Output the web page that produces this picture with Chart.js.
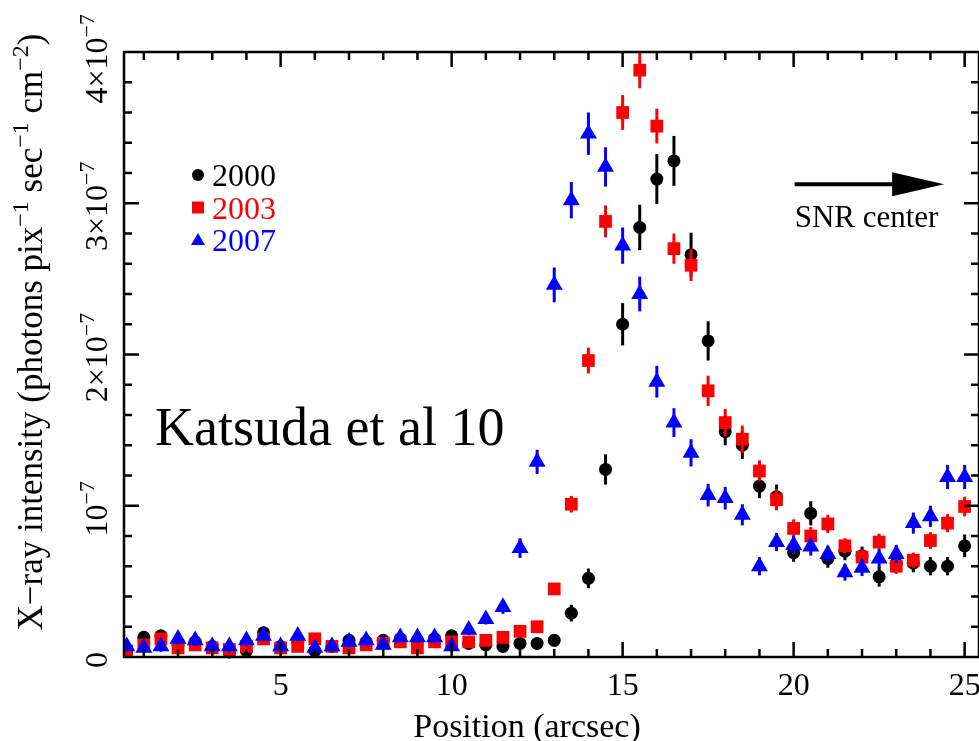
<!DOCTYPE html>
<html>
<head>
<meta charset="utf-8">
<script src="https://cdn.jsdelivr.net/npm/chart.js@4.4.0/dist/chart.umd.min.js"></script>
<style>
    html, body { margin: 0; padding: 0; background: #fff; }
    canvas { display: block; }
</style>
</head>
<body>
<canvas id="grafico" width="979" height="741"></canvas>
<script>
// posiciones (arcsec)
let posiciones = [0.5, 1, 1.5, 2, 2.5, 3, 3.5, 4, 4.5, 5,
    5.5, 6, 6.5, 7, 7.5, 8, 8.5, 9, 9.5, 10,
    10.5, 11, 11.5, 12, 12.5, 13, 13.5, 14, 14.5, 15,
    15.5, 16, 16.5, 17, 17.5, 18, 18.5, 19, 19.5, 20,
    20.5, 21, 21.5, 22, 22.5, 23, 23.5, 24, 24.5, 25];

// intensidad en unidades de 1e-7 photons pix^-1 sec^-1 cm^-2
let datos2000 = [0.05, 0.13, 0.14, 0.08, 0.10, 0.07, 0.03, 0.04, 0.16, 0.07,
    0.10, 0.04, 0.07, 0.11, 0.10, 0.11, 0.12, 0.11, 0.12, 0.14,
    0.09, 0.08, 0.07, 0.09, 0.09, 0.11, 0.29, 0.52, 1.24, 2.20,
    2.84, 3.16, 3.28, 2.66, 2.09, 1.49, 1.40, 1.13, 1.06, 0.69,
    0.95, 0.65, 0.70, 0.67, 0.53, 0.62, 0.62, 0.60, 0.60, 0.735];
let errores2000 = [0.04, 0.04, 0.04, 0.04, 0.04, 0.04, 0.04, 0.04, 0.04, 0.04,
    0.04, 0.04, 0.04, 0.04, 0.04, 0.04, 0.04, 0.04, 0.04, 0.04,
    0.04, 0.04, 0.04, 0.04, 0.04, 0.04, 0.055, 0.065, 0.10, 0.14,
    0.15, 0.165, 0.165, 0.145, 0.13, 0.09, 0.09, 0.08, 0.08, 0.06,
    0.08, 0.06, 0.06, 0.06, 0.065, 0.06, 0.06, 0.06, 0.06, 0.075];

let datos2003 = [0.04, 0.08, 0.12, 0.06, 0.08, 0.06, 0.05, 0.07, 0.12, 0.06,
    0.07, 0.12, 0.07, 0.06, 0.08, 0.09, 0.10, 0.06, 0.10, 0.10,
    0.10, 0.11, 0.13, 0.17, 0.20, 0.45, 1.01, 1.96, 2.88, 3.60,
    3.88, 3.51, 2.70, 2.59, 1.76, 1.55, 1.44, 1.23, 1.04, 0.85,
    0.80, 0.88, 0.735, 0.66, 0.76, 0.60, 0.64, 0.77, 0.885, 0.995];
let errores2003 = [0.035, 0.035, 0.035, 0.035, 0.035, 0.035, 0.035, 0.035, 0.035, 0.035,
    0.035, 0.035, 0.035, 0.035, 0.035, 0.035, 0.035, 0.035, 0.035, 0.035,
    0.035, 0.035, 0.035, 0.035, 0.035, 0.04, 0.055, 0.085, 0.105, 0.115,
    0.12, 0.115, 0.10, 0.105, 0.10, 0.09, 0.09, 0.07, 0.07, 0.06,
    0.06, 0.06, 0.05, 0.05, 0.055, 0.05, 0.05, 0.055, 0.06, 0.065];

let datos2007 = [0.07, 0.06, 0.07, 0.12, 0.11, 0.07, 0.07, 0.11, 0.14, 0.07,
    0.14, 0.06, 0.07, 0.10, 0.11, 0.08, 0.13, 0.13, 0.13, 0.07,
    0.18, 0.25, 0.33, 0.72, 1.29, 2.46, 3.02, 3.46, 3.24, 2.72,
    2.40, 1.82, 1.55, 1.35, 1.07, 1.05, 0.94, 0.60, 0.76, 0.74,
    0.73, 0.68, 0.56, 0.59, 0.65, 0.68, 0.885, 0.93, 1.19, 1.19];
let errores2007 = [0.035, 0.035, 0.035, 0.035, 0.035, 0.035, 0.035, 0.035, 0.035, 0.035,
    0.035, 0.035, 0.035, 0.035, 0.035, 0.035, 0.035, 0.035, 0.035, 0.035,
    0.035, 0.035, 0.045, 0.065, 0.08, 0.115, 0.12, 0.14, 0.13, 0.12,
    0.115, 0.105, 0.095, 0.09, 0.075, 0.075, 0.07, 0.06, 0.06, 0.06,
    0.06, 0.055, 0.055, 0.055, 0.06, 0.06, 0.07, 0.07, 0.08, 0.08];

let nombresSeries = ["2000", "2003", "2007"];
let coloresSeries = ["#000000", "#ff0000", "#0000ff"];

let ticksX = [5, 10, 15, 20, 25];
let ticksY = [0, 1, 2, 3, 4];
let etiquetasY = ["0", "10", "2×10", "3×10", "4×10"];
let exponentesY = ["", "−7", "−7", "−7", "−7"];

const FUENTE = "Liberation Serif";

function puntos(valores) {
    return posiciones.map((x, i) => ({ x: x, y: valores[i] }));
}

// texto con superindices: partes = [[texto, esSup], ...]
function anchoRico(ctx, partes, size) {
    let w = 0;
    partes.forEach(p => {
        ctx.font = (p[1] ? Math.round(size * 0.68) : size) + "px '" + FUENTE + "'";
        w += ctx.measureText(p[0]).width;
    });
    return w;
}
function textoRico(ctx, partes, x, y, size) {
    let cx = x;
    partes.forEach(p => {
        let s = p[1] ? Math.round(size * 0.68) : size;
        ctx.font = s + "px '" + FUENTE + "'";
        ctx.fillText(p[0], cx, p[1] ? y - size * 0.4 : y);
        cx += ctx.measureText(p[0]).width;
    });
}

// barras de error debajo de cada serie
let barrasError = {
    id: "barrasError",
    beforeDatasetDraw(chart, args) {
        let ds = chart.data.datasets[args.index];
        let sx = chart.scales.x, sy = chart.scales.y;
        let ctx = chart.ctx;
        ctx.save();
        ctx.strokeStyle = ds.backgroundColor;
        ctx.lineWidth = 3;
        ds.data.forEach((p, i) => {
            let px = sx.getPixelForValue(p.x);
            ctx.beginPath();
            ctx.moveTo(px, sy.getPixelForValue(p.y - ds.errores[i]));
            ctx.lineTo(px, sy.getPixelForValue(p.y + ds.errores[i]));
            ctx.stroke();
        });
        ctx.restore();
    }
};

// marco, ticks hacia dentro, textos
let marco = {
    id: "marco",
    afterDraw(chart) {
        let ctx = chart.ctx;
        let a = chart.chartArea;
        let sx = chart.scales.x, sy = chart.scales.y;
        ctx.save();
        ctx.strokeStyle = "#000";
        ctx.lineWidth = 2.5;
        ctx.strokeRect(a.left, a.top, a.right - a.left, a.bottom - a.top);

        // ticks x
        for (let v = 1; v <= 25; v++) {
            let px = sx.getPixelForValue(v);
            let largo = v % 5 === 0 ? 15 : 8;
            ctx.beginPath();
            ctx.moveTo(px, a.bottom); ctx.lineTo(px, a.bottom - largo);
            ctx.moveTo(px, a.top); ctx.lineTo(px, a.top + largo);
            ctx.stroke();
        }
        // ticks y
        for (let k = 1; k < 20; k++) {
            let v = k * 0.2;
            let py = sy.getPixelForValue(v);
            let largo = k % 5 === 0 ? 15 : 8;
            ctx.beginPath();
            ctx.moveTo(a.left, py); ctx.lineTo(a.left + largo, py);
            ctx.moveTo(a.right, py); ctx.lineTo(a.right - largo, py);
            ctx.stroke();
        }

        ctx.fillStyle = "#000";
        ctx.textBaseline = "alphabetic";

        // etiquetas x
        ctx.textAlign = "center";
        ctx.font = "32px '" + FUENTE + "'";
        ticksX.forEach(v => {
            ctx.fillText(String(v), sx.getPixelForValue(v), a.bottom + 38);
        });
        ctx.textAlign = "left";

        // etiquetas y (giradas)
        ticksY.forEach((v, i) => {
            let partes = [[etiquetasY[i], false]];
            if (exponentesY[i]) partes.push([exponentesY[i], true]);
            let w = anchoRico(ctx, partes, 32);
            let py = Math.max(sy.getPixelForValue(v) + 3, w / 2 + 14);
            ctx.save();
            ctx.translate(107, py);
            ctx.rotate(-Math.PI / 2);
            textoRico(ctx, partes, -w / 2, 0, 32);
            ctx.restore();
        });

        // titulo y
        let titulo = [["X−ray intensity (photons pix", false], ["−1", true], [" sec", false],
            ["−1", true], [" cm", false], ["−2", true], [")", false]];
        let wt = anchoRico(ctx, titulo, 35);
        ctx.save();
        ctx.translate(42, 332);
        ctx.rotate(-Math.PI / 2);
        textoRico(ctx, titulo, -wt / 2, 0, 35);
        ctx.restore();

        // titulo x
        ctx.font = "34px '" + FUENTE + "'";
        ctx.textAlign = "center";
        ctx.fillText("Position (arcsec)", 527, 737);
        ctx.textAlign = "left";

        // leyenda
        nombresSeries.forEach((n, i) => {
            let cy = 175 + i * 32.5;
            ctx.fillStyle = coloresSeries[i];
            ctx.beginPath();
            if (i === 0) {
                ctx.arc(198, cy, 6, 0, Math.PI * 2);
            } else if (i === 1) {
                ctx.rect(192, cy - 6, 12, 12);
            } else {
                ctx.moveTo(198, cy - 7);
                ctx.lineTo(205, cy + 5);
                ctx.lineTo(191, cy + 5);
                ctx.closePath();
            }
            ctx.fill();
            ctx.font = "32px '" + FUENTE + "'";
            ctx.fillText(n, 212, cy + 11);
        });

        // nota
        ctx.fillStyle = "#000";
        ctx.font = "54px '" + FUENTE + "'";
        ctx.fillText("Katsuda et al 10", 155, 445);

        // flecha hacia el centro
        let x0 = sx.getPixelForValue(20.03), x1 = sx.getPixelForValue(24.4);
        let yf = sy.getPixelForValue(3.125);
        ctx.lineWidth = 4;
        ctx.beginPath();
        ctx.moveTo(x0, yf); ctx.lineTo(x1 - 45, yf);
        ctx.stroke();
        ctx.beginPath();
        ctx.moveTo(x1, yf);
        ctx.lineTo(x1 - 52, yf - 12);
        ctx.lineTo(x1 - 52, yf + 12);
        ctx.closePath();
        ctx.fill();
        ctx.font = "31px '" + FUENTE + "'";
        ctx.fillText("SNR center", x0, yf + 43);

        ctx.restore();
    }
};

let estilos = ["circle", "rect", "triangle"];
let radios = [6.5, 9, 9.8];
let errores = [errores2000, errores2003, errores2007];
let valores = [datos2000, datos2003, datos2007];

let datasets = nombresSeries.map((n, i) => ({
    label: n,
    data: puntos(valores[i]),
    errores: errores[i],
    backgroundColor: coloresSeries[i],
    borderColor: coloresSeries[i],
    borderWidth: 0,
    pointStyle: estilos[i],
    pointRadius: radios[i],
    order: 3 - i
}));

new Chart(document.getElementById("grafico"), {
    type: "scatter",
    data: { datasets: datasets },
    options: {
        responsive: false,
        animation: false,
        devicePixelRatio: 1,
        layout: { autoPadding: false, padding: { left: 124, right: 0, top: 52, bottom: 84 } },
        plugins: {
            legend: { display: false },
            tooltip: { enabled: false }
        },
        scales: {
            x: {
                type: "linear",
                display: false,
                min: 0.42,
                max: 25.42
            },
            y: {
                display: false,
                min: 0,
                max: 4
            }
        }
    },
    plugins: [barrasError, marco]
});
</script>
</body>
</html>
